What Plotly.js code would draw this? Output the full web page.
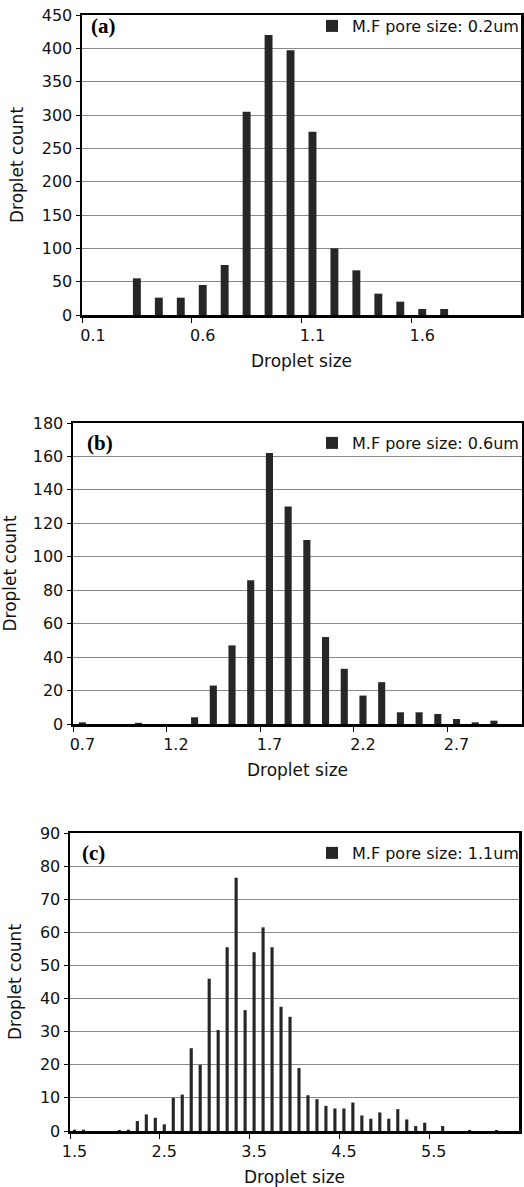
<!DOCTYPE html>
<html>
<head>
<meta charset="utf-8">
<script src="https://cdn.plot.ly/plotly-3.0.1.min.js"></script>
<style>html,body{margin:0;padding:0;background:#fff;}#chart{width:524px;height:1187px;}</style>
</head>
<body>
<div id="chart"></div>
<script>
// ---- data ----
const sizeA = [0.1,0.2,0.3,0.4,0.5,0.6,0.7,0.8,0.9,1.0,1.1,1.2,1.3,1.4,1.5,1.6,1.7,1.8,1.9,2.0];
const countA = [0,0,55,26,26,45,75,305,420,397,275,100,67,32,20,9,9,0,0,0];
const ticksA = [0.1,0.6,1.1,1.6];
const nameA = "M.F pore size: 0.2um";

const sizeB = [0.7,0.8,0.9,1.0,1.1,1.2,1.3,1.4,1.5,1.6,1.7,1.8,1.9,2.0,2.1,2.2,2.3,2.4,2.5,2.6,2.7,2.8,2.9,3.0];
const countB = [1,0,0,0.7,0,0,4,23,47,86,162,130,110,52,33,17,25,7,7,6,3,1,2,0];
const ticksB = [0.7,1.2,1.7,2.2,2.7];
const nameB = "M.F pore size: 0.6um";

const sizeC = [1.5,1.6,1.7,1.8,1.9,2.0,2.1,2.2,2.3,2.4,2.5,2.6,2.7,2.8,2.9,3.0,3.1,3.2,3.3,3.4,
               3.5,3.6,3.7,3.8,3.9,4.0,4.1,4.2,4.3,4.4,4.5,4.6,4.7,4.8,4.9,5.0,5.1,5.2,5.3,5.4,
               5.5,5.6,5.7,5.8,5.9,6.0,6.1,6.2,6.3,6.4];
const countC = [0.4,0.4,0,0,0,0.3,0.4,3,5,4,2,10,11,25,20,46,30.5,55.5,76.5,36.5,
                54,61.5,55.5,37.5,34.5,19,10.8,9.6,7.6,6.8,6.8,8.6,4.7,3.7,5.6,3.7,6.6,3.5,1.5,2.5,
                0,1.5,0,0,0.3,0,0,0.3,0,0];
const ticksC = [1.5,2.5,3.5,4.5,5.5];
const nameC = "M.F pore size: 1.1um";

const panelLabels = ["(a)","(b)","(c)"];
const xTitle = "Droplet size";
const yTitle = "Droplet count";

// ---- styling ----
const W = 524, H = 1187;
const FONT = "DejaVu Sans, Liberation Sans, Arial, sans-serif";
const BAR = "#262626";
const TXT = "#111";
const px = v => v / W;
const py = v => 1 - v / H;

const panels = [
  {x: sizeA, y: countA, ticks: ticksA, step: 0.1, name: nameA, xr: [0.05, 2.05], yr: [0, 450], dy: 50,
   dom: {l: 82, r: 521, t: 15, b: 315}, width: 0.036, headY: 26, labX: 89},
  {x: sizeB, y: countB, ticks: ticksB, step: 0.1, name: nameB, xr: [0.65, 3.05], yr: [0, 180], dy: 20,
   dom: {l: 73, r: 522, t: 423, b: 724}, width: 0.038, headY: 443, labX: 85},
  {x: sizeC, y: countC, ticks: ticksC, step: 0.1, name: nameC, xr: [1.45, 6.45], yr: [0, 90], dy: 10,
   dom: {l: 70, r: 519, t: 833, b: 1131}, width: 0.035, headY: 853, labX: 80}
];

const data = [];
const layout = {
  width: W, height: H,
  margin: {l: 0, r: 0, t: 0, b: 0, autoexpand: false},
  paper_bgcolor: "#fff", plot_bgcolor: "#fff",
  font: {family: FONT, color: TXT, size: 16},
  annotations: [],
  showlegend: true
};

panels.forEach((p, i) => {
  const sfx = i === 0 ? "" : String(i + 1);
  const legKey = "legend" + sfx;
  data.push({
    type: "bar", x: p.x, y: p.y, name: p.name,
    xaxis: "x" + sfx, yaxis: "y" + sfx, legend: legKey,
    width: p.width, marker: {color: BAR, line: {width: 0}},
    hoverinfo: "x+y"
  });
  layout["xaxis" + sfx] = {
    domain: [px(p.dom.l), px(p.dom.r)], anchor: "y" + sfx,
    range: p.xr, tickmode: "array", tickvals: p.ticks, ticktext: p.ticks.map(v => v.toFixed(1)),
    ticks: "", showgrid: false, zeroline: false, ticklabelstandoff: 4,
    showline: true, linecolor: "#000", linewidth: 2.5, mirror: true,
    tickfont: {size: 16, family: FONT, color: TXT},
    minor: {tickmode: "array", tickvals: p.ticks.map(v => v - p.step / 2), ticks: "outside", ticklen: 5, tickcolor: "#000", tickwidth: 1, showgrid: false},
    title: {text: xTitle, font: {size: 17, family: FONT, color: TXT}, standoff: 12},
    automargin: false, fixedrange: true
  };
  layout["yaxis" + sfx] = {
    domain: [py(p.dom.b), py(p.dom.t)], anchor: "x" + sfx,
    range: p.yr, dtick: p.dy, tick0: 0,
    ticks: "outside", ticklen: 4, tickcolor: "#000",
    showgrid: true, gridcolor: "#8a8a8a", gridwidth: 1, zeroline: false,
    showline: true, linecolor: "#000", linewidth: 2.5, mirror: true,
    tickfont: {size: 16, family: FONT, color: TXT},
    title: {text: yTitle, font: {size: 17, family: FONT, color: TXT}, standoff: 14},
    automargin: false, fixedrange: true
  };
  layout[legKey] = {
    x: 1, xanchor: "right", y: py(p.headY), yanchor: "middle",
    bgcolor: "rgba(0,0,0,0)", borderwidth: 0,
    font: {size: 16, family: FONT, color: TXT},
    itemwidth: 30
  };
  layout.annotations.push({
    text: "<b>" + panelLabels[i] + "</b>", xref: "paper", yref: "paper",
    x: px(p.labX), y: py(p.headY), xanchor: "left", yanchor: "middle", showarrow: false,
    font: {family: "Liberation Serif, Times New Roman, serif", size: 21, color: "#000"}
  });
});

Plotly.newPlot("chart", data, layout, {displayModeBar: false, staticPlot: true});
</script>
</body>
</html>
